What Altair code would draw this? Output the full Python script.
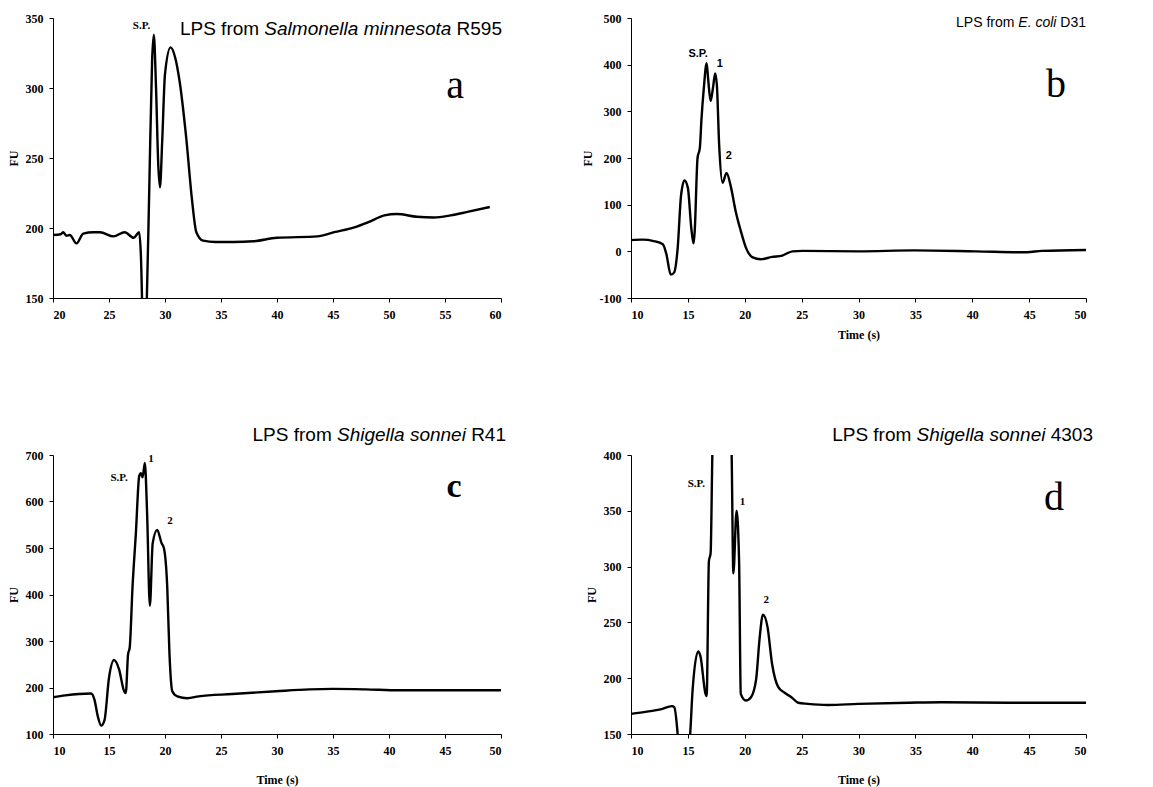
import altair as alt
import pandas as pd

# ---------------- data: fluorescence traces (time in s, signal in FU) ----------------
# a) LPS from Salmonella minnesota R595
a_time = [20.0, 20.7, 20.9, 21.2, 21.5, 22.1, 22.7, 23.6, 24.2, 25.4, 26.4, 27.2, 27.7,
          27.85, 28.05, 28.2, 28.35, 28.6, 28.85, 29.0, 29.2, 29.4, 29.55, 29.75, 30.0,
          30.5, 30.9, 31.3, 31.9, 32.4, 32.8, 33.4, 34.5, 36.1, 37.9, 40.0, 43.6, 45.1,
          46.9, 48.1, 49.6, 50.7, 52.5, 54.0, 55.5, 57.0, 59.0]
a_fu = [195, 195.5, 197, 194.5, 195, 189, 196, 197, 197, 194, 197, 193, 197,
        180, 120, 110, 140, 230, 320, 338, 300, 245, 229, 262, 310,
        329, 322, 305, 264, 221, 197, 191, 190, 190, 190.5, 193, 194, 197,
        200.5, 204, 209, 210, 208, 207.5, 209, 211.5, 215]
a_ann = ["S.P."]
a_ann_t = [27.9]
a_ann_fu = [344]

# b) LPS from E. coli D31
b_time = [10.0, 11.0, 12.0, 12.8, 13.1, 13.5, 13.8, 14.1, 14.4, 14.7, 15.0, 15.3, 15.5,
          15.6, 15.85, 16.05, 16.2, 16.4, 16.65, 16.8, 17.0, 17.2, 17.4, 17.55, 17.75,
          18.05, 18.4, 18.8, 19.2, 19.65, 20.1, 20.7, 21.4, 22.4, 23.3, 24.2, 25.1,
          30.0, 34.9, 40.3, 44.8, 46.1, 50.0]
b_fu = [24, 25, 22, 15, -5, -50, -45, 6, 120, 152, 136, 50, 17,
        43, 200, 221, 285, 349, 403, 364, 322, 349, 381, 356, 228,
        147, 168, 136, 86, 44, 8, -13, -17, -12, -9, 0, 1,
        0, 2, 0, -2, 1, 3]
b_ann = ["S.P.", "1", "2"]
b_ann_t = [15.9, 17.8, 18.6]
b_ann_fu = [423, 402, 205]

# c) LPS from Shigella sonnei R41
c_time = [10.0, 11.1, 13.4, 13.7, 14.0, 14.3, 14.6, 15.0, 15.45, 15.9, 16.35, 16.5,
          16.7, 16.85, 17.1, 17.4, 17.7, 17.85, 18.0, 18.2, 18.4, 18.65, 18.9, 19.3,
          19.7, 19.9, 20.2, 20.4, 20.65, 21.1, 22.0, 23.0, 26.0, 29.9, 32.9, 35.0,
          37.9, 40.9, 50.0]
c_fu = [179, 183, 187, 174, 138, 118, 130, 221, 259, 239, 192, 188,
        271, 286, 416, 532, 655, 661, 652, 683, 576, 376, 510, 539,
        510, 500, 416, 272, 192, 181, 177, 181, 186, 192, 196, 197,
        196, 194, 194]
c_ann = ["S.P.", "1", "2"]
c_ann_t = [15.9, 18.75, 20.45]
c_ann_fu = [650, 691, 557]

# d) LPS from Shigella sonnei 4303
d_time = [10.0, 11.4, 12.6, 13.6, 13.8, 14.1, 14.3, 14.6, 15.2, 15.4, 15.9, 16.1,
          16.55, 16.65, 16.85, 17.0, 17.15, 17.6, 18.0, 18.5, 18.85, 19.0, 19.28,
          19.5, 19.65, 20.1, 20.55, 21.0, 21.3, 21.6, 22.0, 22.4, 22.95, 23.5,
          24.1, 24.7, 25.55, 27.3, 30.0, 34.4, 37.3, 43.2, 50.0]
d_fu = [168, 170, 172, 175, 174, 150, 120, 110, 150, 187, 224, 220,
        186, 184, 305, 312, 400, 520, 560, 520, 400, 294, 350,
        306, 186, 180, 183, 199, 235, 257, 246, 213, 192, 187,
        183, 178, 177, 176, 177, 178, 178.5, 178, 178]
d_ann = ["S.P.", "1", "2"]
d_ann_t = [15.74, 19.8, 21.9]
d_ann_fu = [374, 358, 270]

# Arial / Liberation Sans advance widths (1/1000 em) for laying out mixed-style titles
ADV = {' ': 278, 'L': 556, 'P': 667, 'S': 667, 'f': 278, 'r': 333, 'o': 556, 'm': 833,
       'a': 556, 'l': 222, 'n': 556, 'e': 556, 'i': 222, 's': 500, 't': 278, 'E': 667,
       '.': 278, 'c': 500, 'D': 722, 'R': 722, 'h': 556, 'g': 556, '0': 556, '1': 556,
       '2': 556, '3': 556, '4': 556, '5': 556, '9': 556}


def text_width(s, size):
    return sum(ADV.get(ch, 556) for ch in s) * size / 1000.0


def title_layers(parts, size, right, baseline):
    layers = []
    x = right
    for text, style in reversed(parts):
        layers.append(
            alt.Chart(pd.DataFrame({"s": [text]}))
            .mark_text(align="right", baseline="alphabetic", font="Liberation Sans",
                       fontSize=size, fontStyle=style, color="black")
            .encode(text="s:N", x=alt.value(x), y=alt.value(baseline))
        )
        x -= text_width(text, size) + text_width(" ", size)
    return layers


def panel(t, fu, ann, ann_t, ann_fu, xdom, ydom, ystep, width, height,
          xtitle, xtitle_pad, ann_font, title_parts, title_size, title_right,
          title_base, letter, letter_x, letter_y, letter_size, letter_weight):
    df = pd.DataFrame({"t": t, "fu": fu})
    yticks = list(range(ydom[0], ydom[1] + 1, ystep))
    xticks = list(range(xdom[0], xdom[1] + 1, 5))
    xaxis = alt.Axis(values=xticks, title=xtitle, titlePadding=xtitle_pad) if xtitle \
        else alt.Axis(values=xticks, title=None)
    x = alt.X("t:Q", scale=alt.Scale(domain=xdom, nice=False, zero=False), axis=xaxis)
    y = alt.Y("fu:Q", scale=alt.Scale(domain=ydom, nice=False, zero=False),
              axis=alt.Axis(values=yticks, title="FU", titlePadding=5,
                            labelExpr="'' + datum.value"))
    line = alt.Chart(df).mark_line(color="black", strokeWidth=2.4, clip=True,
                                   interpolate="monotone").encode(x=x, y=y)
    adf = pd.DataFrame({"lab": ann, "t": ann_t, "fu": ann_fu})
    labels = alt.Chart(adf).mark_text(font=ann_font, fontWeight="bold", fontSize=11,
                                      color="black", align="center").encode(
        x="t:Q", y="fu:Q", text="lab:N")
    let = alt.Chart(pd.DataFrame({"s": [letter]})).mark_text(
        font="Liberation Serif", fontSize=letter_size, fontWeight=letter_weight,
        align="center", baseline="alphabetic", color="black").encode(
        text="s:N", x=alt.value(letter_x), y=alt.value(letter_y))
    layers = [line, labels, let] + title_layers(title_parts, title_size, title_right, title_base)
    return alt.layer(*layers).properties(width=width, height=height)


W1, W2 = 448, 455
H1, H2 = 280, 279

pa = panel(a_time, a_fu, a_ann, a_ann_t, a_ann_fu, [20, 60], [150, 350], 50, W1, H1,
           None, 0, "Liberation Serif",
           [("LPS from", "normal"), ("Salmonella minnesota", "italic"), ("R595", "normal")],
           19, 449, 17, "a", 402, 80, 40, "normal")
pb = panel(b_time, b_fu, b_ann, b_ann_t, b_ann_fu, [10, 50], [-100, 500], 100, W2, H1,
           "Time (s)", 9, "Liberation Sans",
           [("LPS from", "normal"), ("E. coli", "italic"), ("D31", "normal")],
           14, 455, 9, "b", 425, 79, 40, "normal")
pc = panel(c_time, c_fu, c_ann, c_ann_t, c_ann_fu, [10, 50], [100, 700], 100, W1, H2,
           "Time (s)", 18, "Liberation Serif",
           [("LPS from", "normal"), ("Shigella sonnei", "italic"), ("R41", "normal")],
           19, 453, -14, "c", 401, 42, 34, "bold")
pd_ = panel(d_time, d_fu, d_ann, d_ann_t, d_ann_fu, [10, 50], [150, 400], 50, W2, H2,
            "Time (s)", 18, "Liberation Serif",
            [("LPS from", "normal"), ("Shigella sonnei", "italic"), ("4303", "normal")],
            19, 462, -14, "d", 423, 55, 40, "normal")

chart = alt.concat(pa, pb, pc, pd_, columns=2, spacing={"row": 157, "column": 130},
                   bounds="flush").properties(
    padding={"left": 7, "top": 12, "right": 5, "bottom": 5}
).configure_view(stroke=None).configure_axis(
    grid=False, domainColor="black", tickColor="black", domainWidth=1, tickWidth=1,
    tickSize=4, labelFont="Liberation Serif", labelFontWeight="bold", labelFontSize=12,
    labelColor="black", labelPadding=6, titleFont="Liberation Serif",
    titleFontWeight="bold", titleFontSize=12, titleColor="black"
).configure_axisX(labelPadding=7)

chart.save("out.html", embed_options={"renderer": "svg", "actions": False})
